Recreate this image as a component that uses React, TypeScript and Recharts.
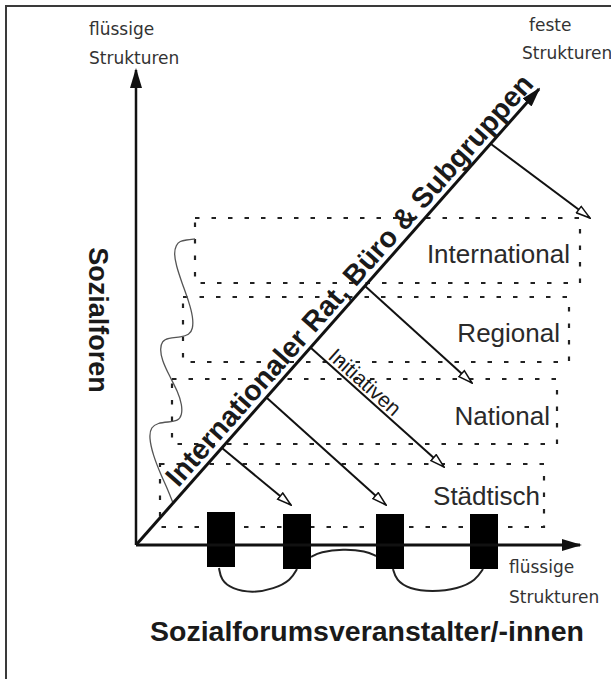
import React from "react";
import {
  ComposedChart,
  XAxis,
  YAxis,
  Line,
  Scatter,
  ReferenceLine,
  ReferenceArea,
} from "recharts";

// Diagram units: the axis origin is (0, 0), y grows upwards, 1 unit ~ 1px
const W = 611;
const H = 679;
const X_DOMAIN = [-136, 475];
const Y_DOMAIN = [-134, 545];

const AXIS_UP = { x: 0, y: 475 };
const AXIS_RIGHT = { x: 444, y: 0 };
const AXIS_DIAGONAL = { x: 403, y: 456 };

// Forum levels (dotted boxes)
const LEVELS = ["International", "Regional", "National", "Städtisch"];
const LEVEL_LEFT = [59, 47, 36, 24];
const LEVEL_RIGHT = [444, 433, 421, 408];
const LEVEL_TOP = [327, 248, 166, 81];
const LEVEL_BOTTOM = [262, 183, 101, 18];
const LEVEL_LABEL_X = [434, 424, 414, 404];
const LEVEL_LABEL_Y = [291, 212, 129, 49];

// Flows leaving the diagonal axis
const FLOW_FROM_X = [355, 229, 175, 131, 86];
const FLOW_FROM_Y = [401, 259, 197, 147, 97];
const FLOW_TO_X = [454, 336, 308, 250, 155];
const FLOW_TO_Y = [327, 162, 78, 40, 40];

// Organiser blocks on the horizontal axis
const EVENT_LEFT = [71, 147, 240, 334];
const EVENT_RIGHT = [99, 175, 268, 362];
const EVENT_TOP = [33, 31, 31, 31];
const EVENT_BOTTOM = [-22, -24, -24, -24];

const LOOP_A = [
  { x: 83, y: -23 }, { x: 85, y: -35 }, { x: 96, y: -44 }, { x: 116, y: -48 },
  { x: 138, y: -44 }, { x: 155, y: -35 }, { x: 161, y: -24 },
];
const LOOP_B = [
  { x: 175, y: -12 }, { x: 184, y: -7 }, { x: 207, y: -4 }, { x: 230, y: -6 }, { x: 240, y: -11 },
];
const LOOP_C = [
  { x: 257, y: -24 }, { x: 260, y: -35 }, { x: 273, y: -44 }, { x: 296, y: -47 },
  { x: 322, y: -44 }, { x: 340, y: -35 }, { x: 347, y: -24 },
];

// wavy brace left of the boxes
const WAVE = [
  { x: 59, y: 306 }, { x: 50, y: 305 }, { x: 44, y: 304 }, { x: 40, y: 300 },
  { x: 38, y: 292 }, { x: 40, y: 280 }, { x: 46, y: 262 }, { x: 53, y: 243 },
  { x: 57, y: 228 }, { x: 57, y: 216 }, { x: 53, y: 210 }, { x: 45, y: 208 },
  { x: 32, y: 207 }, { x: 26, y: 204 }, { x: 24, y: 196 }, { x: 26, y: 185 },
  { x: 33, y: 170 }, { x: 42, y: 153 }, { x: 46, y: 140 }, { x: 46, y: 130 },
  { x: 42, y: 124 }, { x: 32, y: 123 }, { x: 22, y: 122 }, { x: 15, y: 118 },
  { x: 13, y: 108 }, { x: 17, y: 90 }, { x: 25, y: 70 }, { x: 32, y: 55 },
  { x: 37, y: 42 },
];

const NOTES = [
  { text: "flüssige", x: -47, y: 516 },
  { text: "Strukturen", x: -47, y: 487 },
  { text: "feste", x: 393, y: 520 },
  { text: "Strukturen", x: 386, y: 492 },
  { text: "flüssige", x: 373, y: -22 },
  { text: "Strukturen", x: 373, y: -52 },
];

const TITLE_UP = { text: "Sozialforen", x: -38, y: 225 };
const TITLE_RIGHT = { text: "Sozialforumsveranstalter/-innen", x: 231, y: -86 };
const TITLE_DIAGONAL = { text: "Internationaler Rat, Büro & Subgruppen", x: 213, y: 265 };
const TITLE_FLOW = { text: "Initiativen", x: 229, y: 163 };

const INK = "#111";
const SANS = "Liberation Sans, Arial, sans-serif";
const deg = (dx: number, dy: number) => (-Math.atan2(dy, dx) * 180) / Math.PI;

const textShape =
  (style: Record<string, any>, angle = 0) =>
  (props: any) => {
    const { cx, cy, payload } = props;
    return (
      <text
        x={cx}
        y={cy}
        dy="0.35em"
        transform={angle ? `rotate(${angle} ${cx} ${cy})` : undefined}
        {...style}
      >
        {payload.text}
      </text>
    );
  };

export default function App() {
  const diagAngle = deg(AXIS_DIAGONAL.x, AXIS_DIAGONAL.y);
  const flowAngle = deg(FLOW_TO_X[2] - FLOW_FROM_X[2], FLOW_TO_Y[2] - FLOW_FROM_Y[2]);
  const levelLabels = LEVELS.map((text, i) => ({ text, x: LEVEL_LABEL_X[i], y: LEVEL_LABEL_Y[i] }));

  return (
    <div style={{ position: "absolute", left: 0, top: 0, width: W, height: H, background: "#fff" }}>
      <div
        style={{
          position: "absolute",
          left: 5,
          top: 5,
          right: 0,
          bottom: 0,
          borderTop: "2px solid #3a3a3a",
          borderLeft: "2px solid #3a3a3a",
        }}
      />
      <div style={{ position: "absolute", left: 0, top: 0 }}>
        <ComposedChart width={W} height={H} margin={{ top: 0, right: 0, bottom: 0, left: 0 }}>
          <defs>
            <marker id="headSolid" viewBox="0 0 20 12" refX="18" refY="6" markerWidth="20" markerHeight="12"
              markerUnits="userSpaceOnUse" orient="auto">
              <path d="M0,0 L20,6 L0,12 z" fill={INK} />
            </marker>
            <marker id="headOpen" viewBox="0 0 16 10" refX="15" refY="5" markerWidth="16" markerHeight="10"
              markerUnits="userSpaceOnUse" orient="auto">
              <path d="M1,1 L15,5 L1,9 z" fill="#fff" stroke={INK} strokeWidth={1.5} strokeLinejoin="miter" />
            </marker>
          </defs>
          <XAxis type="number" dataKey="x" domain={X_DOMAIN} allowDataOverflow hide />
          <YAxis type="number" dataKey="y" domain={Y_DOMAIN} allowDataOverflow hide />

          {LEVELS.map((name, i) => (
            <ReferenceArea
              key={name}
              x1={LEVEL_LEFT[i]}
              x2={LEVEL_RIGHT[i]}
              y1={LEVEL_BOTTOM[i]}
              y2={LEVEL_TOP[i]}
              fill="none"
              stroke="#222"
              strokeWidth={2.2}
              strokeDasharray="4.5 12"
              ifOverflow="visible"
            />
          ))}

          <Line data={WAVE} dataKey="y" type="basis" stroke="#555" strokeWidth={1.3} dot={false}
            isAnimationActive={false} legendType="none" />

          <ReferenceLine segment={[{ x: 0, y: 0 }, AXIS_UP]} stroke={INK} strokeWidth={2.5}
            markerEnd="url(#headSolid)" ifOverflow="visible" />
          <ReferenceLine segment={[{ x: 0, y: 0 }, AXIS_RIGHT]} stroke={INK} strokeWidth={3}
            markerEnd="url(#headSolid)" ifOverflow="visible" />
          <ReferenceLine segment={[{ x: 0, y: 0 }, AXIS_DIAGONAL]} stroke={INK} strokeWidth={3}
            markerEnd="url(#headSolid)" ifOverflow="visible" />

          {FLOW_FROM_X.map((fx, i) => (
            <ReferenceLine
              key={`flow-${i}`}
              segment={[{ x: fx, y: FLOW_FROM_Y[i] }, { x: FLOW_TO_X[i], y: FLOW_TO_Y[i] }]}
              stroke={INK}
              strokeWidth={2}
              markerEnd="url(#headOpen)"
              ifOverflow="visible"
            />
          ))}

          {EVENT_LEFT.map((l, i) => (
            <ReferenceArea key={`ev-${i}`} x1={l} x2={EVENT_RIGHT[i]} y1={EVENT_BOTTOM[i]} y2={EVENT_TOP[i]}
              fill="#000" fillOpacity={1} stroke="none" ifOverflow="visible" />
          ))}

          {[LOOP_A, LOOP_B, LOOP_C].map((loop, i) => (
            <Line key={`loop-${i}`} data={loop} dataKey="y" type="basis" stroke="#222" strokeWidth={2}
              dot={false} isAnimationActive={false} legendType="none" />
          ))}

          <Scatter data={levelLabels} isAnimationActive={false} legendType="none"
            shape={textShape({ fontFamily: SANS, fontSize: 26, fill: "#2a2a2a", textAnchor: "end" })} />
          <Scatter data={NOTES} isAnimationActive={false} legendType="none"
            shape={textShape({ fontFamily: "DejaVu Sans, sans-serif", fontSize: 17, fill: "#333", textAnchor: "start" })} />
          <Scatter data={[TITLE_UP]} isAnimationActive={false} legendType="none"
            shape={textShape({ fontFamily: SANS, fontSize: 27, fontWeight: 700, fill: "#1a1a1a", textAnchor: "middle" }, 90)} />
          <Scatter data={[TITLE_RIGHT]} isAnimationActive={false} legendType="none"
            shape={textShape({ fontFamily: SANS, fontSize: 28.5, fontWeight: 700, fill: "#1a1a1a", textAnchor: "middle" })} />
          <Scatter data={[TITLE_DIAGONAL]} isAnimationActive={false} legendType="none"
            shape={textShape({ fontFamily: SANS, fontSize: 28.5, fontWeight: 700, fill: "#1a1a1a", textAnchor: "middle" }, diagAngle)} />
          <Scatter data={[TITLE_FLOW]} isAnimationActive={false} legendType="none"
            shape={textShape({ fontFamily: SANS, fontSize: 21, fill: "#1a1a1a", textAnchor: "middle" }, flowAngle)} />
        </ComposedChart>
      </div>
    </div>
  );
}
